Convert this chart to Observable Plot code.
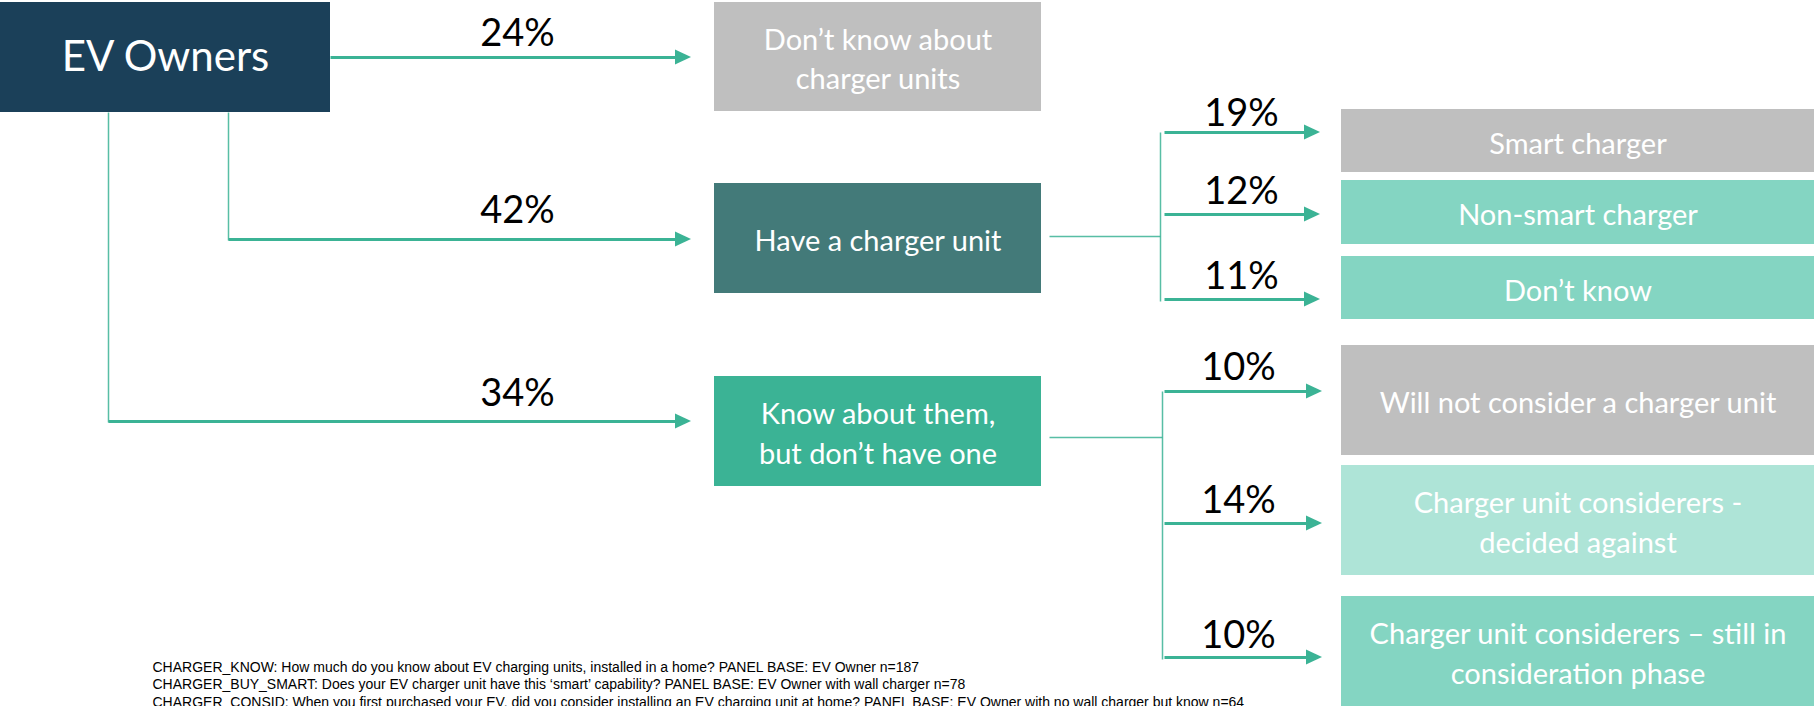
<!DOCTYPE html>
<html><head><meta charset="utf-8">
<script src="https://cdn.jsdelivr.net/npm/d3@7"></script>
<script src="https://cdn.jsdelivr.net/npm/@observablehq/plot@0.6"></script>
<style>html,body{margin:0;padding:0;background:#fff;} #chart svg{display:block;}</style>
</head><body><div id="chart"></div>
<script>
// ---------- DATA ----------
const rootLabel = "EV Owners";
const level1Labels = ["Don’t know about\ncharger units", "Have a charger unit", "Know about them,\nbut don’t have one"];
const level1Values = [24, 42, 34];
const chargerLabels = ["Smart charger", "Non-smart charger", "Don’t know"];
const chargerValues = [19, 12, 11];
const noUnitLabels = ["Will not consider a charger unit", "Charger unit considerers -\ndecided against", "Charger unit considerers – still in\nconsideration phase"];
const noUnitValues = [10, 14, 10];
const footnotes = [
  "CHARGER_KNOW: How much do you know about EV charging units, installed in a home? PANEL BASE: EV Owner n=187",
  "CHARGER_BUY_SMART: Does your EV charger unit have this ‘smart’ capability? PANEL BASE: EV Owner with wall charger n=78",
  "CHARGER_CONSID: When you first purchased your EV, did you consider installing an EV charging unit at home? PANEL BASE: EV Owner with no wall charger but know n=64"
];

// ---------- LAYOUT (geometry & style, kept apart from data) ----------
const W = 1814, H = 706;
const TEAL = "#3bb395", GREY = "#bfbfbf";
const layout = {
  root: {x1: 0, x2: 330, y1: 2, y2: 112, fill: "#1b4059"},
  l1: {
    x1: 714, x2: 1041, arrowEnd: 691, labelX: 517,
    boxes: [[2, 111], [183, 293], [376, 486]],
    fills: [GREY, "#437a79", TEAL],
    arrowY: [57, 239, 421],
    startX: [330, 228, 108],
    labelDy: [12, 17, 16]
  },
  sub: [
    {fromBox: 1, connY: 236, stemX: 1160, startX: 1164, arrowEnd: 1320, labelX: 1241,
     x1: 1341, x2: 1814, boxes: [[109, 172], [180, 244], [256, 319]],
     fills: [GREY, "#84d5c2", "#84d5c2"], arrowY: [132, 214, 299], labelDy: [7, 11, 11]},
    {fromBox: 2, connY: 437, stemX: 1162, startX: 1164, arrowEnd: 1322, labelX: 1238,
     x1: 1341, x2: 1814, boxes: [[345, 455], [465, 575], [596, 706]],
     fills: [GREY, "#aee4d7", "#84d5c2"], arrowY: [391, 523, 657], labelDy: [12, 11, 10]}
  ],
  footX: 152, footY0: 671.5, footStep: 17.3
};

// ---------- BUILD TABLES ----------
const boxes = [{...layout.root}];
const boxTexts = [{x: (layout.root.x1 + layout.root.x2) / 2, y: (layout.root.y1 + layout.root.y2) / 2, text: rootLabel, size: 42}];
const thin = [], shafts = [], heads = [], pcts = [];
let hid = 0;
function addArrow(x1, x2, y) {
  shafts.push({x1, x2: x2 - 10, y1: y, y2: y});
  heads.push({id: hid, x: x2 - 16, y1: y - 7.5, y2: y + 7.5});
  heads.push({id: hid, x: x2, y1: y, y2: y});
  hid++;
}
level1Labels.forEach((lab, i) => {
  const L = layout.l1, [y1, y2] = L.boxes[i];
  boxes.push({x1: L.x1, x2: L.x2, y1, y2, fill: L.fills[i]});
  boxTexts.push({x: (L.x1 + L.x2) / 2, y: (y1 + y2) / 2, text: lab, size: 28});
  const ay = L.arrowY[i];
  if (i > 0) thin.push({x1: L.startX[i], x2: L.startX[i], y1: layout.root.y2, y2: ay + 1});
  addArrow(L.startX[i], L.arrowEnd, ay);
  pcts.push({x: L.labelX, y: ay - L.labelDy[i], text: level1Values[i] + "%"});
});
[[chargerLabels, chargerValues], [noUnitLabels, noUnitValues]].forEach(([labs, vals], k) => {
  const S = layout.sub[k];
  thin.push({x1: layout.l1.x2 + 8, x2: S.stemX, y1: S.connY, y2: S.connY});
  thin.push({x1: S.stemX, x2: S.stemX, y1: S.arrowY[0], y2: S.arrowY[S.arrowY.length - 1] + 2});
  labs.forEach((lab, i) => {
    const [y1, y2] = S.boxes[i];
    boxes.push({x1: S.x1, x2: S.x2, y1, y2, fill: S.fills[i]});
    boxTexts.push({x: (S.x1 + S.x2) / 2, y: (y1 + y2) / 2, text: lab, size: 28});
    addArrow(S.startX, S.arrowEnd, S.arrowY[i]);
    pcts.push({x: S.labelX, y: S.arrowY[i] - S.labelDy[i], text: vals[i] + "%"});
  });
});
const foot = footnotes.map((t, i) => ({x: layout.footX, y: layout.footY0 + i * layout.footStep, text: t}));

const chart = Plot.plot({
  width: W, height: H, margin: 0,
  x: {domain: [0, W], range: [0, W], axis: null},
  y: {domain: [0, H], range: [0, H], axis: null},
  color: {type: "identity"},
  style: {fontFamily: "Lato, 'Open Sans', sans-serif", background: "#fff"},
  marks: [
    Plot.rect(boxes, {x1: "x1", x2: "x2", y1: "y1", y2: "y2", fill: "fill"}),
    Plot.link(thin, {x1: "x1", x2: "x2", y1: "y1", y2: "y2", stroke: TEAL, strokeWidth: 1.5, strokeOpacity: 0.85}),
    Plot.link(shafts, {x1: "x1", x2: "x2", y1: "y1", y2: "y2", stroke: TEAL, strokeWidth: 3}),
    Plot.area(heads, {x1: "x", y1: "y1", y2: "y2", z: "id", fill: TEAL, curve: "linear"}),
    Plot.text(boxTexts.filter(d => d.size === 42), {x: "x", y: "y", text: "text", fill: "white", fontSize: 42, lineAnchor: "middle"}),
    Plot.text(boxTexts.filter(d => d.size === 28), {x: "x", y: "y", text: "text", fill: "white", fontSize: 29, lineHeight: 1.36, lineAnchor: "middle"}),
    Plot.text(pcts, {x: "x", y: "y", text: "text", fill: "#000", fontSize: 38, lineAnchor: "bottom"}),
    Plot.text(foot, {x: "x", y: "y", text: "text", fill: "#000", fontSize: 14, textAnchor: "start", lineAnchor: "bottom", fontFamily: "'Liberation Sans', Arial, sans-serif"})
  ]
});
document.getElementById("chart").appendChild(chart);
</script>
</body></html>
